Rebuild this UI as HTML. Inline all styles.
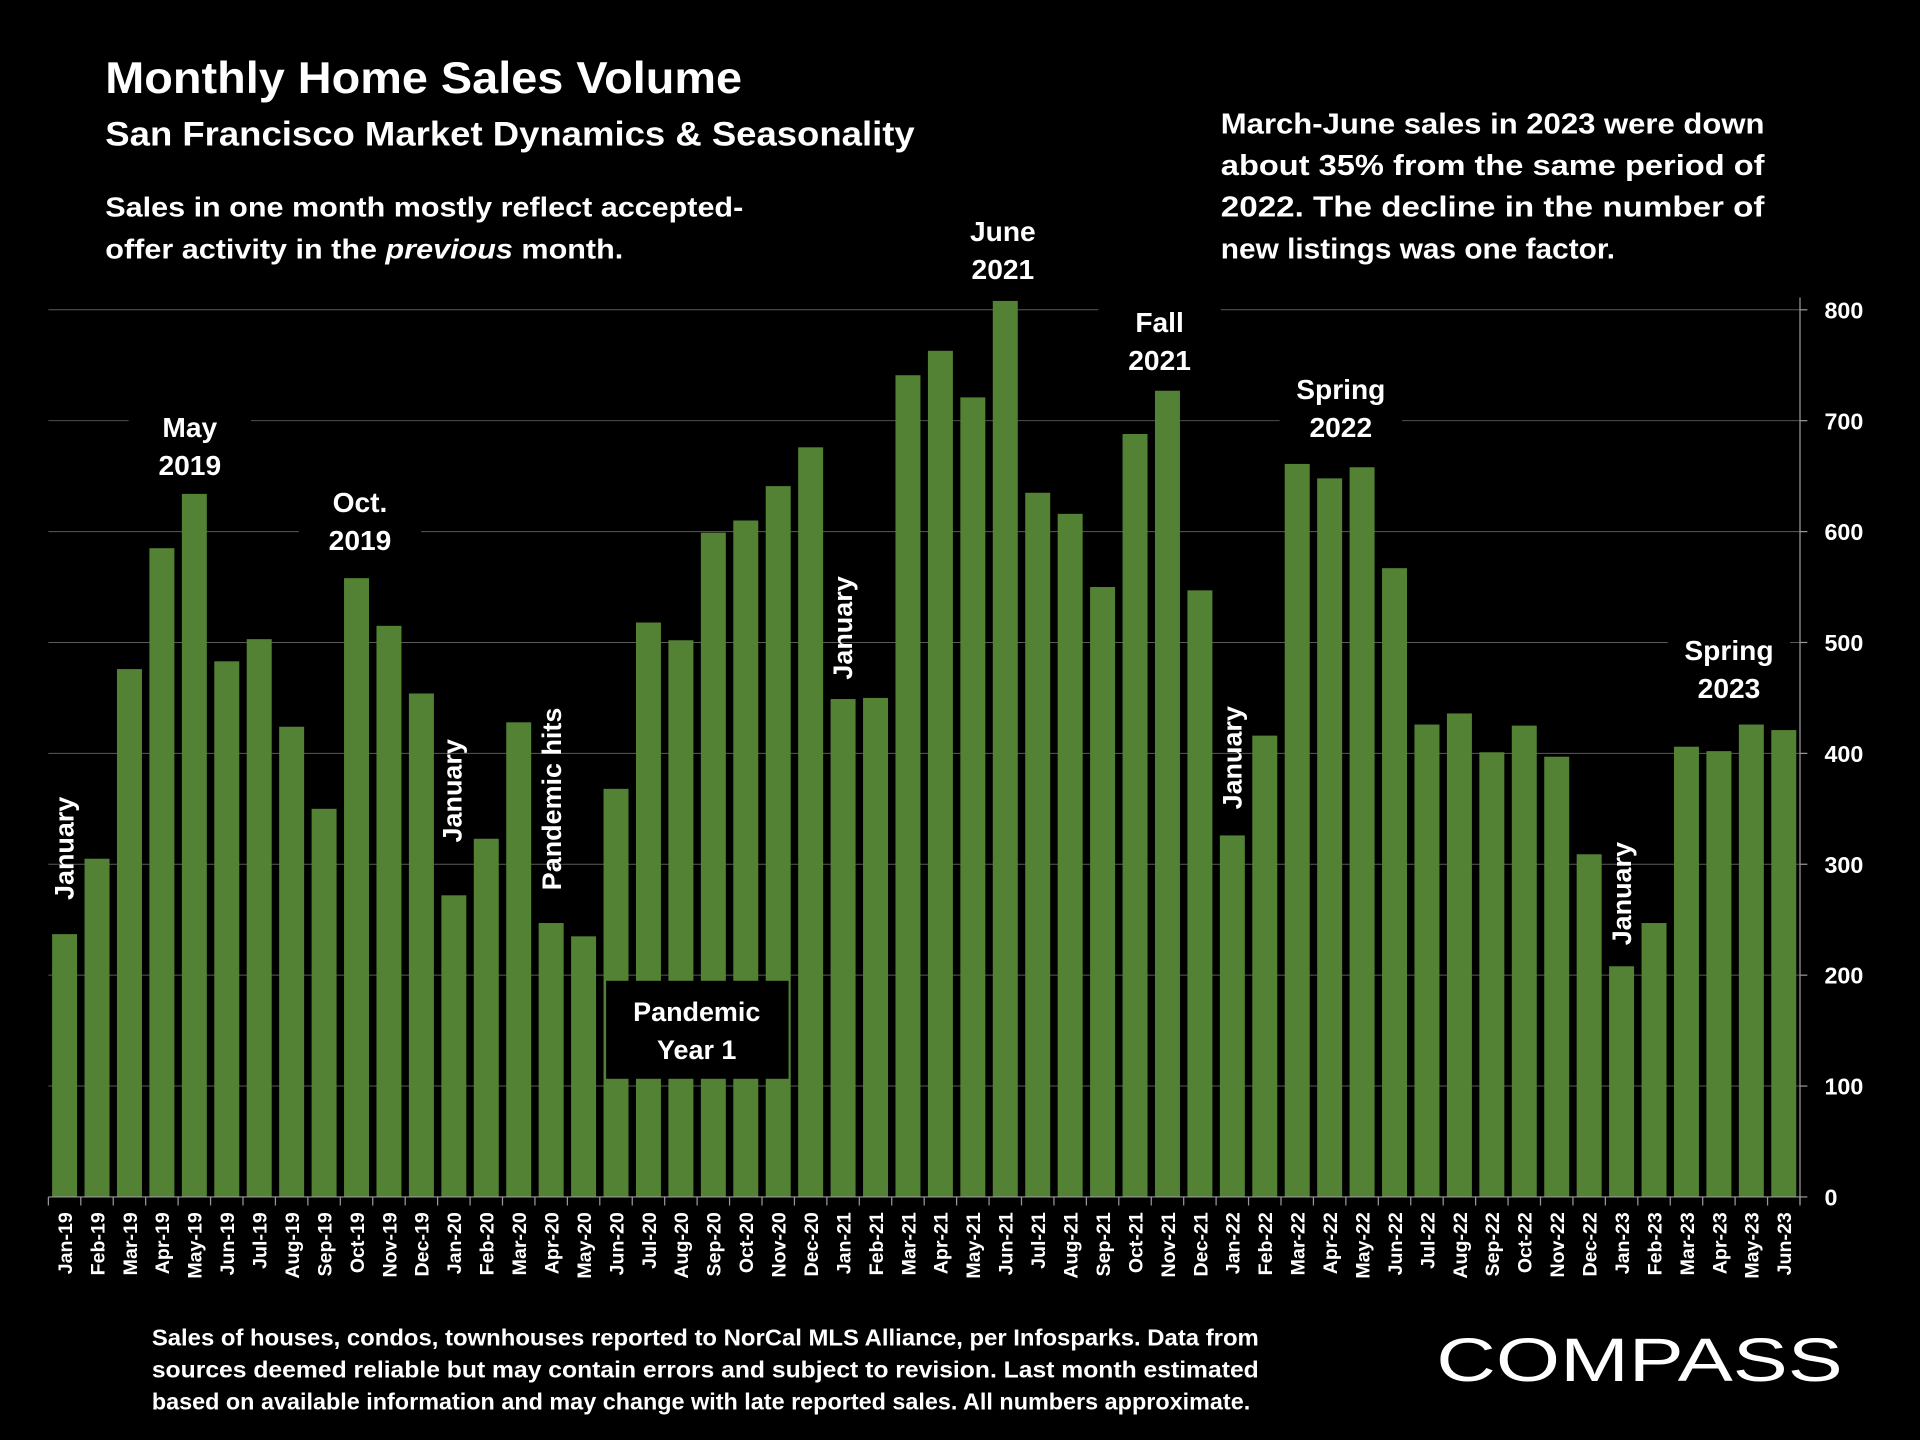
<!DOCTYPE html>
<html><head><meta charset="utf-8">
<style>
html,body{margin:0;padding:0;background:#000;}
svg{display:block;}
text{font-family:"Liberation Sans",sans-serif;fill:#fff;font-weight:bold;}
</style></head>
<body>
<svg id="chart" width="1920" height="1440" viewBox="0 0 1568 1176" xmlns="http://www.w3.org/2000/svg">
<rect width="1568" height="1176" fill="#000"/>
<g id="grid"></g>
<g id="bars"></g>
<g id="axes"></g>

<text x="86" y="76" font-size="36" textLength="520" lengthAdjust="spacingAndGlyphs">Monthly Home Sales Volume</text>
<text x="86" y="119" font-size="28" textLength="661" lengthAdjust="spacingAndGlyphs">San Francisco Market Dynamics &amp; Seasonality</text>
<text font-size="23"><tspan x="86" y="177" textLength="521" lengthAdjust="spacingAndGlyphs">Sales in one month mostly reflect accepted-</tspan><tspan x="86" y="211" textLength="423" lengthAdjust="spacingAndGlyphs">offer activity in the <tspan font-style="italic">previous</tspan> month.</tspan></text>
<text font-size="23.5"><tspan x="997" y="109" textLength="444" lengthAdjust="spacingAndGlyphs">March-June sales in 2023 were down</tspan><tspan x="997" y="143" textLength="444" lengthAdjust="spacingAndGlyphs">about 35% from the same period of</tspan><tspan x="997" y="177" textLength="444" lengthAdjust="spacingAndGlyphs">2022.  The decline in the number of</tspan><tspan x="997" y="211" textLength="322" lengthAdjust="spacingAndGlyphs">new listings was one factor.</tspan></text>

<g id="annots"></g>

<text font-size="18.5"><tspan x="124" y="1099" textLength="904" lengthAdjust="spacingAndGlyphs">Sales of houses, condos, townhouses reported to NorCal MLS Alliance, per Infosparks. Data from</tspan><tspan x="124" y="1125" textLength="904" lengthAdjust="spacingAndGlyphs">sources deemed reliable but may contain errors and subject to revision. Last month estimated</tspan><tspan x="124" y="1151" textLength="897" lengthAdjust="spacingAndGlyphs">based on available information and may change with late reported sales. All numbers approximate.</tspan></text>
<text x="1173" y="1128" font-size="50" style="font-weight:normal" textLength="332" lengthAdjust="spacingAndGlyphs">COMPASS</text>
</svg>
<script>
const categories=["Jan-19","Feb-19","Mar-19","Apr-19","May-19","Jun-19","Jul-19","Aug-19","Sep-19","Oct-19","Nov-19","Dec-19","Jan-20","Feb-20","Mar-20","Apr-20","May-20","Jun-20","Jul-20","Aug-20","Sep-20","Oct-20","Nov-20","Dec-20","Jan-21","Feb-21","Mar-21","Apr-21","May-21","Jun-21","Jul-21","Aug-21","Sep-21","Oct-21","Nov-21","Dec-21","Jan-22","Feb-22","Mar-22","Apr-22","May-22","Jun-22","Jul-22","Aug-22","Sep-22","Oct-22","Nov-22","Dec-22","Jan-23","Feb-23","Mar-23","Apr-23","May-23","Jun-23"];
const sales=[237,305,476,585,634,483,503,424,350,558,515,454,272,323,428,247,235,368,518,502,599,610,641,676,449,450,741,763,721,808,635,616,550,688,727,547,326,416,661,648,658,567,426,436,401,425,397,309,208,247,406,402,426,421];
const yTicks=[0,100,200,300,400,500,600,700,800];

const NS="http://www.w3.org/2000/svg";
const X0=39.5,X1=1470,Y0=977.5,Y800=253;
const bw=(X1-X0)/categories.length;
function xCenter(i){return X0+bw*(i+0.5);}
function yScale(v){return Y0-(Y0-Y800)*v/800;}
function mk(tag,attrs,parent){const e=document.createElementNS(NS,tag);for(const k in attrs)e.setAttribute(k,attrs[k]);parent.appendChild(e);return e;}

const grid=document.getElementById('grid'),bars=document.getElementById('bars'),axes=document.getElementById('axes'),ann=document.getElementById('annots');
yTicks.forEach(t=>{
  if(t>0){const l=mk('line',{x1:X0,x2:X1,y1:yScale(t),y2:yScale(t),stroke:'#5a5a5a','stroke-width':0.8},grid);
  
  }
  const tk=mk('line',{x1:X1,x2:X1+6,y1:yScale(t),y2:yScale(t),stroke:'#999','stroke-width':1},axes);
  
  
  const tx=mk('text',{x:1490,y:yScale(t)+7,'font-size':19},axes);
  tx.textContent=t;
  
  
});
mk('line',{x1:X1,x2:X1,y1:243,y2:Y0+6,stroke:'#999','stroke-width':1},axes);
mk('line',{x1:X0,x2:X1,y1:Y0,y2:Y0,stroke:'#999','stroke-width':1},axes);
sales.forEach((v,i)=>{
  const w=bw*0.77;
  const r=mk('rect',{x:xCenter(i)-w/2,y:yScale(v),width:w,height:Y0-yScale(v),fill:'#548235'},bars);
  
  
  const tk=mk('line',{x1:X0+bw*i,x2:X0+bw*i,y1:Y0,y2:Y0+7,stroke:'#999','stroke-width':1},axes);
  
  
  const cx=xCenter(i)+6;
  const lab=mk('text',{x:0,y:0,'font-size':16,'text-anchor':'end',transform:`translate(${cx},990) rotate(-90)`},axes);
  lab.textContent=categories[i];
  
  
});
mk('line',{x1:X1,x2:X1,y1:Y0,y2:Y0+7,stroke:'#999','stroke-width':1},axes);

function block(lines,cx,y0,name,bgw){
  const g=mk('g',{},ann);
  
  
  mk('rect',{x:cx-bgw/2,y:y0-24,width:bgw,height:lines.length*31+4,fill:'#000'},g);
  lines.forEach((s,k)=>{const t=mk('text',{x:cx,y:y0+k*31,'font-size':23,'text-anchor':'middle'},g);t.textContent=s;});
}
block(["May","2019"],155,357,'annotation-may-2019',100);
block(["Oct.","2019"],294,418,'annotation-oct-2019',100);
block(["June","2021"],819,197,'annotation-june-2021',100);
block(["Fall","2021"],947,271,'annotation-fall-2021',100);
block(["Spring","2022"],1095,326,'annotation-spring-2022',100);
block(["Spring","2023"],1412,539,'annotation-spring-2023',100);
function vtext(s,cx,ybottom,name){
  const t=mk('text',{x:0,y:0,'font-size':22,transform:`translate(${cx},${ybottom}) rotate(-90)`},ann);
  t.textContent=s;
  
  
}
vtext("January",60,735,'annotation-january-2019');
vtext("January",377,688,'annotation-january-2020');
vtext("Pandemic hits",458,727,'annotation-pandemic-hits');
vtext("January",696,555,'annotation-january-2021');
vtext("January",1014,661,'annotation-january-2022');
vtext("January",1332,772,'annotation-january-2023');
const pb=mk('g',{},ann);


mk('rect',{x:495,y:801,width:149,height:80,fill:'#000'},pb);
const p1=mk('text',{x:569,y:834,'font-size':22,'text-anchor':'middle'},pb);p1.textContent="Pandemic";
const p2=mk('text',{x:569,y:865,'font-size':22,'text-anchor':'middle'},pb);p2.textContent="Year 1";
</script>
</body></html>
